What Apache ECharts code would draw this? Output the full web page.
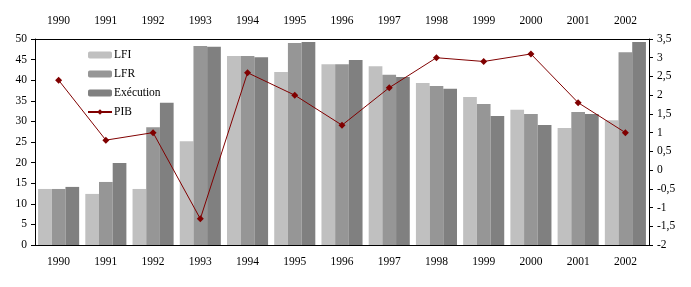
<!DOCTYPE html>
<html><head><meta charset="utf-8">
<script src="https://cdn.jsdelivr.net/npm/echarts@6/dist/echarts.min.js"></script>
<style>html,body{margin:0;padding:0;background:#fff}#c{width:691px;height:287px}</style>
</head><body><div id="c"></div>
<script>
const years = ['1990','1991','1992','1993','1994','1995','1996','1997','1998','1999','2000','2001','2002'];
const lfi = [13.6,12.4,13.6,25.2,45.9,42.0,43.9,43.4,39.3,35.9,32.8,28.4,30.3];
const lfr = [13.6,15.3,28.6,48.3,45.9,49.0,43.9,41.3,38.6,34.2,31.8,32.3,46.8];
const exe = [14.1,19.9,34.5,48.1,45.6,49.3,44.9,40.8,37.9,31.3,29.1,31.8,49.3];
const pib = [2.4,0.8,1.0,-1.3,2.6,2.0,1.2,2.2,3.0,2.9,3.1,1.8,1.0];

const font = 'Liberation Serif';
const txt = {color:'#000', fontFamily:font, fontSize:11.5};
const chart = echarts.init(document.getElementById('c'));
chart.setOption({
  animation:false,
  textStyle:{fontFamily:font},
  grid:{left:35,right:42,top:39,bottom:42},
  legend:{
    orient:'vertical', left:87, top:49, padding:0, itemWidth:24, itemHeight:7, itemGap:7,
    textStyle:{color:'#000', fontFamily:font, fontSize:11.5, padding:[0,0,0,-3]},
    data:['LFI','LFR','Exécution','PIB']
  },
  xAxis:[
    {type:'category', data:years, position:'bottom',
     axisLine:{onZero:false,lineStyle:{color:'#000'}}, axisTick:{length:4,lineStyle:{color:'#000'}},
     axisLabel:Object.assign({margin:11, interval:0}, txt)},
    {type:'category', data:years, position:'top',
     axisLine:{onZero:false,lineStyle:{color:'#000'}}, axisTick:{inside:true,length:4,lineStyle:{color:'#000'}},
     axisLabel:Object.assign({margin:12, interval:0}, txt)}
  ],
  yAxis:[
    {type:'value', min:0, max:50, interval:5, splitLine:{show:false},
     axisLine:{show:true,lineStyle:{color:'#000'}}, axisTick:{show:true,length:4,lineStyle:{color:'#000'}},
     axisLabel:Object.assign({margin:8}, txt)},
    {type:'value', min:-2, max:3.5, interval:0.5, position:'right', splitLine:{show:false},
     axisLine:{show:true,lineStyle:{color:'#000'}}, axisTick:{show:true,length:4,lineStyle:{color:'#000'}},
     axisLabel:Object.assign({margin:8, formatter:v=>String(v).replace('.',',')}, txt)}
  ],
  series:[
    {name:'LFI', type:'bar', data:lfi, barGap:'0%', barCategoryGap:'13%', itemStyle:{color:'#C0C0C0'}},
    {name:'LFR', type:'bar', data:lfr, barGap:'0%', barCategoryGap:'13%', itemStyle:{color:'#969696'}},
    {name:'Exécution', type:'bar', data:exe, barGap:'0%', barCategoryGap:'13%', itemStyle:{color:'#808080'}},
    {name:'PIB', type:'line', yAxisIndex:1, data:pib, symbol:'diamond', symbolSize:7,
     lineStyle:{color:'#800000', width:1}, itemStyle:{color:'#800000'}, z:5}
  ]
});
</script></body></html>
